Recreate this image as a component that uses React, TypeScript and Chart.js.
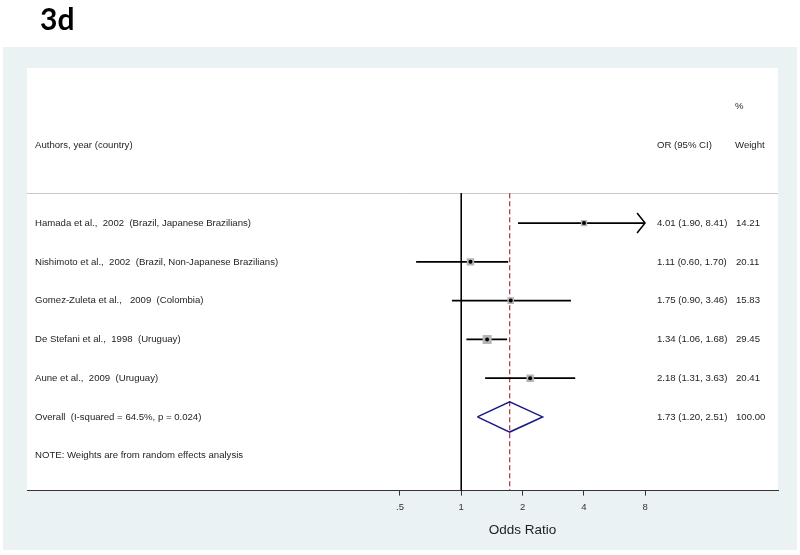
import React, { useEffect, useRef } from "react";
import { Chart, registerables } from "chart.js";

Chart.register(...registerables);

// ---------- data ----------
const STUDIES = [
  "Hamada et al.,  2002  (Brazil, Japanese Brazilians)",
  "Nishimoto et al.,  2002  (Brazil, Non-Japanese Brazilians)",
  "Gomez-Zuleta et al.,   2009  (Colombia)",
  "De Stefani et al.,  1998  (Uruguay)",
  "Aune et al.,  2009  (Uruguay)",
];
const OR = [4.01, 1.11, 1.75, 1.34, 2.18];
const LOWER = [1.9, 0.6, 0.9, 1.06, 1.31];
const UPPER = [8.41, 1.7, 3.46, 1.68, 3.63];
const WEIGHTS = [14.21, 20.11, 15.83, 29.45, 20.41];

const OVERALL_LABEL = "Overall  (I-squared = 64.5%, p = 0.024)";
const OVERALL_OR = 1.73;
const OVERALL_LOWER = 1.2;
const OVERALL_UPPER = 2.51;
const OVERALL_WEIGHT = 100.0;

const NOTE = "NOTE: Weights are from random effects analysis";
const HEAD_LABEL = "Authors, year (country)";
const HEAD_OR = "OR (95% CI)";
const HEAD_PCT = "%";
const HEAD_WEIGHT = "Weight";
const TITLE = "3d";
const X_TITLE = "Odds Ratio";

const X_TICKS = [0.5, 1, 2, 4, 8];
const X_TICK_LABELS = [".5", "1", "2", "4", "8"];

// ---------- layout ----------
const X_MIN = 0.00735;
const X_MAX = 36;
const Y_MAX = 10.9;
const ROW_PCT = 1;
const ROW_HEAD = 2;
const SEP_ROW = 3.23;
const STUDY_ROWS = [4, 5, 6, 7, 8];
const OVERALL_ROW = 9;
const NOTE_ROW = 10;
const DIAMOND_HALF = 0.39;
const SQUARE_K = 1.66;

const FONT = "'Liberation Sans', Arial, Helvetica, sans-serif";
const TEXT_COLOR = "#1e1e1e";
const BG = "rgb(234,242,243)";

const fmt = (v: number) => v.toFixed(2);

const decorPlugin = {
  id: "decor",
  beforeDraw(chart: any) {
    const { ctx, chartArea } = chart;
    ctx.save();
    ctx.fillStyle = "#ffffff";
    ctx.fillRect(0, 0, chart.width, chart.height);
    ctx.fillStyle = BG;
    ctx.fillRect(3, 47, 794, 503);
    ctx.fillStyle = "#ffffff";
    ctx.fillRect(chartArea.left, chartArea.top, chartArea.right - chartArea.left, chartArea.bottom - chartArea.top);
    ctx.restore();
  },
  beforeDatasetsDraw(chart: any) {
    const { ctx, chartArea, scales } = chart;
    const y = scales.y.getPixelForValue(SEP_ROW);
    ctx.save();
    ctx.strokeStyle = "#c9c9c9";
    ctx.lineWidth = 1;
    ctx.beginPath();
    ctx.moveTo(chartArea.left, Math.round(y) + 0.5);
    ctx.lineTo(chartArea.right, Math.round(y) + 0.5);
    ctx.stroke();
    ctx.restore();
  },
  afterDatasetsDraw(chart: any) {
    const { ctx, chartArea, scales } = chart;
    const xs = scales.x;
    const ys = scales.y;
    const topTick = X_TICKS[X_TICKS.length - 1];
    ctx.save();
    // arrows for truncated CIs
    ctx.strokeStyle = "#000";
    ctx.lineWidth = 1.5;
    UPPER.forEach((u, i) => {
      if (u > topTick) {
        const x = xs.getPixelForValue(topTick);
        const y = ys.getPixelForValue(STUDY_ROWS[i]);
        ctx.beginPath();
        ctx.moveTo(x - 8, y - 10);
        ctx.lineTo(x, y);
        ctx.lineTo(x - 8, y + 10);
        ctx.stroke();
      }
    });

    // text
    const colL = chartArea.left + 8;
    const colOR = chartArea.left + 630;
    const colW = chartArea.left + 708;
    ctx.fillStyle = TEXT_COLOR;
    ctx.font = `9.6px ${FONT}`;
    ctx.textBaseline = "middle";
    ctx.textAlign = "left";
    const py = (r: number) => ys.getPixelForValue(r);
    ctx.fillText(HEAD_PCT, colW, py(ROW_PCT));
    ctx.fillText(HEAD_LABEL, colL, py(ROW_HEAD));
    ctx.fillText(HEAD_OR, colOR, py(ROW_HEAD));
    ctx.fillText(HEAD_WEIGHT, colW, py(ROW_HEAD));
    STUDIES.forEach((s, i) => {
      const y = py(STUDY_ROWS[i]);
      ctx.fillText(s, colL, y);
      ctx.fillText(`${fmt(OR[i])} (${fmt(LOWER[i])}, ${fmt(UPPER[i])})`, colOR, y);
      ctx.fillText(fmt(WEIGHTS[i]), colW + 1, y);
    });
    const oy = py(OVERALL_ROW);
    ctx.fillText(OVERALL_LABEL, colL, oy);
    ctx.fillText(`${fmt(OVERALL_OR)} (${fmt(OVERALL_LOWER)}, ${fmt(OVERALL_UPPER)})`, colOR, oy);
    ctx.fillText(fmt(OVERALL_WEIGHT), colW + 1, oy);
    ctx.fillText(NOTE, colL, py(NOTE_ROW));

    // axis title centred on tick range
    const x0 = xs.getPixelForValue(X_TICKS[0]);
    const x1 = xs.getPixelForValue(topTick);
    ctx.font = `13.5px ${FONT}`;
    ctx.textAlign = "center";
    ctx.fillText(X_TITLE, (x0 + x1) / 2, 530);

    // figure label
    ctx.font = `bold 30px Lato, 'Open Sans', sans-serif`;
    ctx.textAlign = "left";
    ctx.textBaseline = "alphabetic";
    ctx.fillStyle = "#000";
    ctx.fillText(TITLE, 40, 30);
    ctx.restore();
  },
};

export default function App() {
  const ref = useRef<HTMLCanvasElement>(null);

  useEffect(() => {
    const canvas = ref.current;
    if (!canvas) return;
    const topTick = X_TICKS[X_TICKS.length - 1];

    const ciSets = STUDIES.map((s, i) => ({
      label: s,
      data: [
        { x: LOWER[i], y: STUDY_ROWS[i] },
        { x: Math.min(UPPER[i], topTick), y: STUDY_ROWS[i] },
      ],
      showLine: true,
      borderColor: "#000",
      borderWidth: 1.6,
      pointRadius: 0,
      order: 5,
    }));

    const chart = new Chart(canvas, {
      type: "scatter",
      data: {
        datasets: [
          {
            label: "null",
            data: [
              { x: 1, y: SEP_ROW },
              { x: 1, y: Y_MAX },
            ],
            showLine: true,
            borderColor: "#000",
            borderWidth: 1,
            pointRadius: 0,
            order: 10,
          },
          {
            label: "overall line",
            data: [
              { x: OVERALL_OR, y: SEP_ROW },
              { x: OVERALL_OR, y: Y_MAX },
            ],
            showLine: true,
            borderColor: "#a81c2a",
            borderWidth: 1.1,
            borderDash: [5, 3],
            pointRadius: 0,
            order: 9,
          },
          ...ciSets,
          {
            label: "weights",
            data: OR.map((v, i) => ({ x: v, y: STUDY_ROWS[i] })),
            pointStyle: "rect",
            pointRadius: (c: any) => (SQUARE_K * Math.sqrt(WEIGHTS[c.dataIndex] ?? 0)) / Math.SQRT2,
            backgroundColor: "#b5b5b5",
            borderWidth: 0,
            order: 3,
          },
          {
            label: "estimates",
            data: OR.map((v, i) => ({ x: v, y: STUDY_ROWS[i] })),
            pointStyle: "circle",
            pointRadius: 2,
            backgroundColor: "#000",
            borderWidth: 0,
            order: 1,
          },
          {
            label: "overall",
            data: [
              { x: OVERALL_LOWER, y: OVERALL_ROW },
              { x: OVERALL_OR, y: OVERALL_ROW - DIAMOND_HALF },
              { x: OVERALL_UPPER, y: OVERALL_ROW },
              { x: OVERALL_OR, y: OVERALL_ROW + DIAMOND_HALF },
              { x: OVERALL_LOWER, y: OVERALL_ROW },
            ],
            showLine: true,
            borderColor: "#1a1a85",
            borderWidth: 1.5,
            pointRadius: 0,
            tension: 0,
            order: 2,
          },
        ] as any,
      },
      options: {
        responsive: false,
        animation: false,
        events: [],
        layout: { padding: { left: 27, right: 22, top: 68, bottom: 36 } },
        plugins: { legend: { display: false }, tooltip: { enabled: false }, title: { display: false } },
        scales: {
          x: {
            type: "logarithmic",
            min: X_MIN,
            max: X_MAX,
            bounds: "data",
            afterBuildTicks: (scale: any) => {
              scale.ticks = X_TICKS.map((v) => ({ value: v }));
            },
            ticks: {
              autoSkip: false,
              maxRotation: 0,
              padding: 6,
              color: "#333",
              font: { family: FONT, size: 9.5 },
              callback: (_v: any, i: number) => X_TICK_LABELS[i],
            },
            grid: { drawOnChartArea: false, drawTicks: true, tickLength: 5, color: "#333" },
            border: { display: true, color: "#333", width: 1 },
          },
          y: {
            type: "linear",
            display: false,
            min: 0,
            max: Y_MAX,
            reverse: true,
          },
        },
      } as any,
      plugins: [decorPlugin],
    });
    return () => chart.destroy();
  }, []);

  return (
    <div style={{ position: "absolute", left: 0, top: 0, width: 800, height: 555, background: "#fff" }}>
      <canvas ref={ref} width={800} height={555} style={{ display: "block", width: 800, height: 555 }} />
    </div>
  );
}
